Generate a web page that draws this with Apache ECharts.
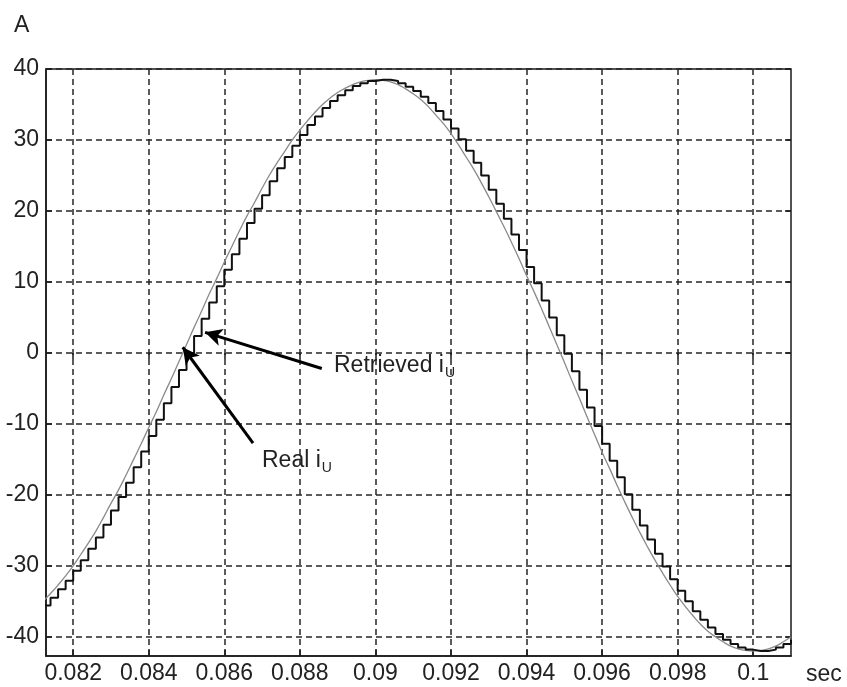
<!DOCTYPE html>
<html><head><meta charset="utf-8">
<script src="https://cdn.jsdelivr.net/npm/echarts@6/dist/echarts.min.js"></script>
<style>html,body{margin:0;padding:0;background:#fff}#c{width:847px;height:687px}</style>
</head><body><div id="c"></div>
<script>
const timeSec = [
0.0812,0.0814,0.0816,0.0818,0.0820,0.0822,0.0824,0.0826,0.0828,0.0830,
0.0832,0.0834,0.0836,0.0838,0.0840,0.0842,0.0844,0.0846,0.0848,0.0850,
0.0852,0.0854,0.0856,0.0858,0.0860,0.0862,0.0864,0.0866,0.0868,0.0870,
0.0872,0.0874,0.0876,0.0878,0.0880,0.0882,0.0884,0.0886,0.0888,0.0890,
0.0892,0.0894,0.0896,0.0898,0.0900,0.0902,0.0904,0.0906,0.0908,0.0910,
0.0912,0.0914,0.0916,0.0918,0.0920,0.0922,0.0924,0.0926,0.0928,0.0930,
0.0932,0.0934,0.0936,0.0938,0.0940,0.0942,0.0944,0.0946,0.0948,0.0950,
0.0952,0.0954,0.0956,0.0958,0.0960,0.0962,0.0964,0.0966,0.0968,0.0970,
0.0972,0.0974,0.0976,0.0978,0.0980,0.0982,0.0984,0.0986,0.0988,0.0990,
0.0992,0.0994,0.0996,0.0998,0.1000,0.1002,0.1004,0.1006,0.1008,0.1010];

const realIU = [
-35.0,-33.9,-32.7,-31.4,-30.0,-28.4,-26.8,-25.1,-23.2,-21.2,
-19.3,-17.2,-15.0,-12.8,-10.5,-8.3,-5.9,-3.6,-1.2,1.2,
3.6,5.9,8.3,10.5,12.8,15.0,17.2,19.3,21.2,23.2,
25.1,26.8,28.4,30.0,31.4,32.7,33.9,35.0,35.9,36.7,
37.3,37.8,38.2,38.4,38.5,38.4,38.2,37.8,37.2,36.5,
35.7,34.7,33.5,32.3,30.9,29.3,27.6,25.9,24.0,22.0,
19.9,17.8,15.6,13.3,10.9,8.6,6.2,3.7,1.2,-1.3,
-3.9,-6.4,-9.0,-11.5,-14.0,-16.3,-18.7,-21.0,-23.2,-25.3,
-27.3,-29.2,-31.0,-32.7,-34.3,-35.7,-37.0,-38.2,-39.2,-40.0,
-40.7,-41.3,-41.7,-41.9,-42.0,-41.9,-41.7,-41.3,-40.7,-40.0];

const retrievedIU = [
-35.6,-34.5,-33.3,-32.1,-30.7,-29.2,-27.6,-26.0,-24.2,-22.2,
-20.3,-18.3,-16.1,-13.9,-11.7,-9.4,-7.1,-4.8,-2.4,0.0,
2.4,4.8,7.1,9.4,11.7,13.9,16.1,18.3,20.3,22.2,
24.2,26.0,27.6,29.2,30.7,32.1,33.3,34.5,35.5,36.3,
37.0,37.6,38.0,38.3,38.5,38.5,38.3,38.0,37.5,36.9,
36.1,35.2,34.1,32.9,31.6,30.1,28.5,26.8,25.0,23.0,
21.0,18.9,16.7,14.5,12.1,9.8,7.4,5.0,2.5,-0.1,
-2.6,-5.2,-7.7,-10.3,-12.8,-15.2,-17.5,-19.9,-22.1,-24.3,
-26.3,-28.3,-30.1,-31.9,-33.5,-35.0,-36.4,-37.6,-38.7,-39.6,
-40.4,-41.0,-41.5,-41.8,-42.0,-42.0,-41.8,-41.5,-41.0,-40.4];

const xTickValues = [0.082,0.084,0.086,0.088,0.09,0.092,0.094,0.096,0.098,0.1];
const xTickLabels = ['0.082','0.084','0.086','0.088','0.09','0.092','0.094','0.096','0.098','0.1'];
const yTickValues = [-40,-30,-20,-10,0,10,20,30,40];
const yTickLabels = ['-40','-30','-20','-10','0','10','20','30','40'];

const xRange = [0.08128, 0.101];
const yRange = [-42.7, 40];

// annotation arrows: [tail, tip] in data coordinates
const retrievedArrow = [[0.08858, -2.2], [0.08549, 2.9]];
const realArrow = [[0.08676, -12.7], [0.08490, 0.8]];

const FONT = "'Liberation Sans', Arial, Helvetica, sans-serif";
const TXT = '#222';

const chart = echarts.init(document.getElementById('c'), null, {renderer: 'canvas'});

function pairs(xs, ys) { return xs.map((x, i) => [x, ys[i]]); }
function lab(vals, labels) { return v => { const i = vals.findIndex(a => Math.abs(a - v) < 1e-9); return i >= 0 ? labels[i] : ''; }; }

const axisLineStyle = {color: '#1a1a1a', width: 1.5};
const gridLine = {show: true, lineStyle: {color: '#262626', width: 1.5, type: [6, 4]}};

const measure = (() => { const c = document.createElement('canvas').getContext('2d'); return (t, f) => { c.font = f; return c.measureText(t).width; }; })();
const mainFont = `23px ${FONT}`;
const subFont = `14px ${FONT}`;

const retrievedPos = [334, 354];
const realPos = [262, 449];

chart.setOption({
  animation: false,
  backgroundColor: '#fff',
  grid: {left: 46, top: 69, width: 745, height: 587, show: true, borderColor: '#1a1a1a', borderWidth: 1.5},
  xAxis: [{
    type: 'value', min: xRange[0], max: xRange[1], position: 'bottom',
    axisLine: {show: true, onZero: false, lineStyle: axisLineStyle},
    axisTick: {show: true, inside: true, length: 6, customValues: xTickValues, lineStyle: axisLineStyle},
    axisLabel: {customValues: xTickValues, formatter: lab(xTickValues, xTickLabels), color: TXT, fontSize: 23, fontFamily: FONT, margin: 6},
    splitLine: gridLine
  }, {
    type: 'value', min: xRange[0], max: xRange[1], position: 'top',
    axisLine: {show: false},
    axisTick: {show: true, inside: true, length: 6, customValues: xTickValues, lineStyle: axisLineStyle},
    axisLabel: {show: false}, splitLine: {show: false}
  }],
  yAxis: [{
    type: 'value', min: yRange[0], max: yRange[1], position: 'left',
    axisLine: {show: true, onZero: false, lineStyle: axisLineStyle},
    axisTick: {show: true, inside: true, length: 6, customValues: yTickValues, lineStyle: axisLineStyle},
    axisLabel: {customValues: yTickValues, formatter: lab(yTickValues, yTickLabels), color: TXT, fontSize: 23, fontFamily: FONT, margin: 7},
    splitLine: gridLine
  }, {
    type: 'value', min: yRange[0], max: yRange[1], position: 'right',
    axisLine: {show: false},
    axisTick: {show: true, inside: true, length: 6, customValues: yTickValues, lineStyle: axisLineStyle},
    axisLabel: {show: false}, splitLine: {show: false}
  }],
  series: [{
    name: 'Real iU', type: 'line', data: pairs(timeSec, realIU), showSymbol: false, smooth: true,
    lineStyle: {color: '#8a8a8a', width: 1.3}, z: 3
  }, {
    name: 'Retrieved iU', type: 'line', data: pairs(timeSec, retrievedIU), showSymbol: false, step: 'end',
    lineStyle: {color: '#111', width: 2}, z: 4,
    markLine: {
      silent: true, symbol: ['none', 'arrow'], symbolSize: [13, 17],
      lineStyle: {color: '#000', width: 3, type: 'solid'}, label: {show: false},
      data: [
        [{coord: retrievedArrow[0]}, {coord: retrievedArrow[1]}],
        [{coord: realArrow[0]}, {coord: realArrow[1]}]
      ]
    }
  }],
  graphic: [
    {type: 'text', left: 14, top: 14, style: {text: 'A', font: mainFont, fill: TXT}},
    {type: 'text', left: 806, top: 663, style: {text: 'sec', font: mainFont, fill: TXT}},
    {type: 'text', left: retrievedPos[0], top: retrievedPos[1], style: {text: 'Retrieved i', font: mainFont, fill: TXT}},
    {type: 'text', left: retrievedPos[0] + measure('Retrieved i', mainFont) + 1, top: retrievedPos[1] + 12, style: {text: 'U', font: subFont, fill: TXT}},
    {type: 'text', left: realPos[0], top: realPos[1], style: {text: 'Real i', font: mainFont, fill: TXT}},
    {type: 'text', left: realPos[0] + measure('Real i', mainFont) + 1, top: realPos[1] + 12, style: {text: 'U', font: subFont, fill: TXT}}
  ]
});
</script></body></html>
